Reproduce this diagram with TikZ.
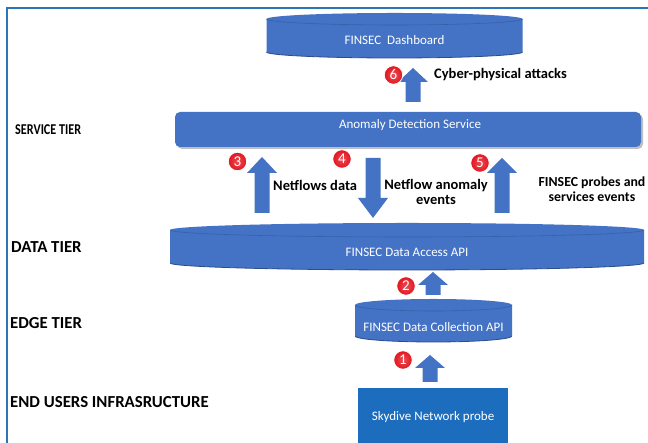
\documentclass[tikz,border=0pt]{standalone}
\usepackage{fontspec}
\setmainfont{Carlito}
\definecolor{cylfill}{HTML}{4472C4}
\definecolor{cyledge}{HTML}{3660AA}
\definecolor{probefill}{HTML}{1C6DBE}
\definecolor{framecol}{HTML}{2E75B6}
\definecolor{ballred}{HTML}{E2141E}
\newcommand{\upblock}[4]{%
  \fill[cylfill] (#1-7.5,#2) -- (#1+7.5,#2) -- (#1+7.5,#3) -- (#1+15,#3) -- (#1,#4) -- (#1-15,#3) -- (#1-7.5,#3) -- cycle;}
\newcommand{\cylshape}[5]{% cx rx ytop ybot ry
  \fill[cylfill] (#1-#2,#3) -- (#1-#2,#4) arc[start angle=180,end angle=360,x radius=#2pt,y radius=#5pt] -- (#1+#2,#3) arc[start angle=0,end angle=180,x radius=#2pt,y radius=#5pt] -- cycle;
  \draw[cyledge,line width=0.6pt] (#1-#2,#3) arc[start angle=180,end angle=360,x radius=#2pt,y radius=#5pt];
  \draw[cyledge!80!black,line width=0.8pt] (#1-#2,#4) arc[start angle=180,end angle=360,x radius=#2pt,y radius=#5pt];}
\begin{document}
\begin{tikzpicture}[x=1pt,y=1pt,
  boxtext/.style={text=white,font=\fontsize{13}{15}\selectfont,inner sep=0pt},
  tierlabel/.style={anchor=west,font=\fontsize{16.8}{19}\selectfont\bfseries,inner sep=0pt},
  flowlabel/.style={font=\fontsize{14.5}{15}\selectfont\bfseries,inner sep=0pt,align=center},
  numball/.style={circle,inner color=ballred!75!white,outer color=ballred,draw=white,line width=0.8pt,minimum size=18.5pt,inner sep=0pt,text=white,font=\fontsize{15}{15}\selectfont}]
\useasboundingbox (0,0) rectangle (648,443);
\fill[white] (0,0) rectangle (648,443);
% frame
\draw[framecol,line width=1.3pt] (7,0) -- (7,435) -- (648,435);
% dashboard
\cylshape{394.5}{128}{424}{391}{6}
\node[boxtext] (dash) at (394.5,403) {FINSEC\ \ Dashboard};
% anomaly detection service
\fill[black!25,rounded corners=5pt] (177,294) rectangle (643,329);
\fill[cylfill,rounded corners=5pt] (175,296) rectangle (641,331);
\node[boxtext] (ads) at (410,318) {Anomaly Detection Service};
% data access api
\cylshape{407}{237}{213}{180}{7}
\node[boxtext] (dapi) at (407,191) {FINSEC Data Access API};
% data collection api
\cylshape{433.5}{78.5}{138}{107}{6}
\node[boxtext] (dcapi) at (433.5,116) {FINSEC Data Collection API};
% skydive probe
\fill[probefill] (358,0) rectangle (508,55);
\node[boxtext] (probe) at (433,26) {Skydive Network probe};
% block arrows
\upblock{430}{61}{75}{88}
\upblock{433}{148}{158}{171}
\upblock{262}{230}{270}{286}
\upblock{502}{230}{270}{285}
\upblock{413}{341}{361}{375}
\fill[cylfill] (373-7.5,285) -- (373+7.5,285) -- (373+7.5,245) -- (373+15,245) -- (373,225) -- (373-15,245) -- (373-7.5,245) -- cycle;
% number balls
\node[numball] (n1) at (403,83) {1};
\node[numball] (n2) at (406,157) {2};
\node[numball] (n3) at (237.5,281.5) {3};
\node[numball] (n4) at (342,284) {4};
\node[numball] (n5) at (480,280) {5};
\node[numball] (n6) at (393.5,368) {6};
% flow labels
\node[flowlabel,anchor=west] (l6) at (434,368) {Cyber-physical attacks};
\node[flowlabel,anchor=west] (l3) at (273,258) {Netflows data};
\node[flowlabel] (l4) at (436,251) {Netflow anomaly\\events};
\node[flowlabel,font=\fontsize{13.8}{15}\selectfont\bfseries] (l5) at (592,253.5) {FINSEC probes and\\services events};
% tier labels
\node[tierlabel] (t1) at (15,313) {\scalebox{0.81}[1]{\fontsize{15}{17}\selectfont\bfseries SERVICE TIER}};
\node[tierlabel] (t2) at (11,196) {DATA TIER};
\node[tierlabel] (t3) at (10,120) {EDGE TIER};
\node[tierlabel] (t4) at (10,41) {END USERS INFRASRUCTURE};
\end{tikzpicture}
\end{document}
